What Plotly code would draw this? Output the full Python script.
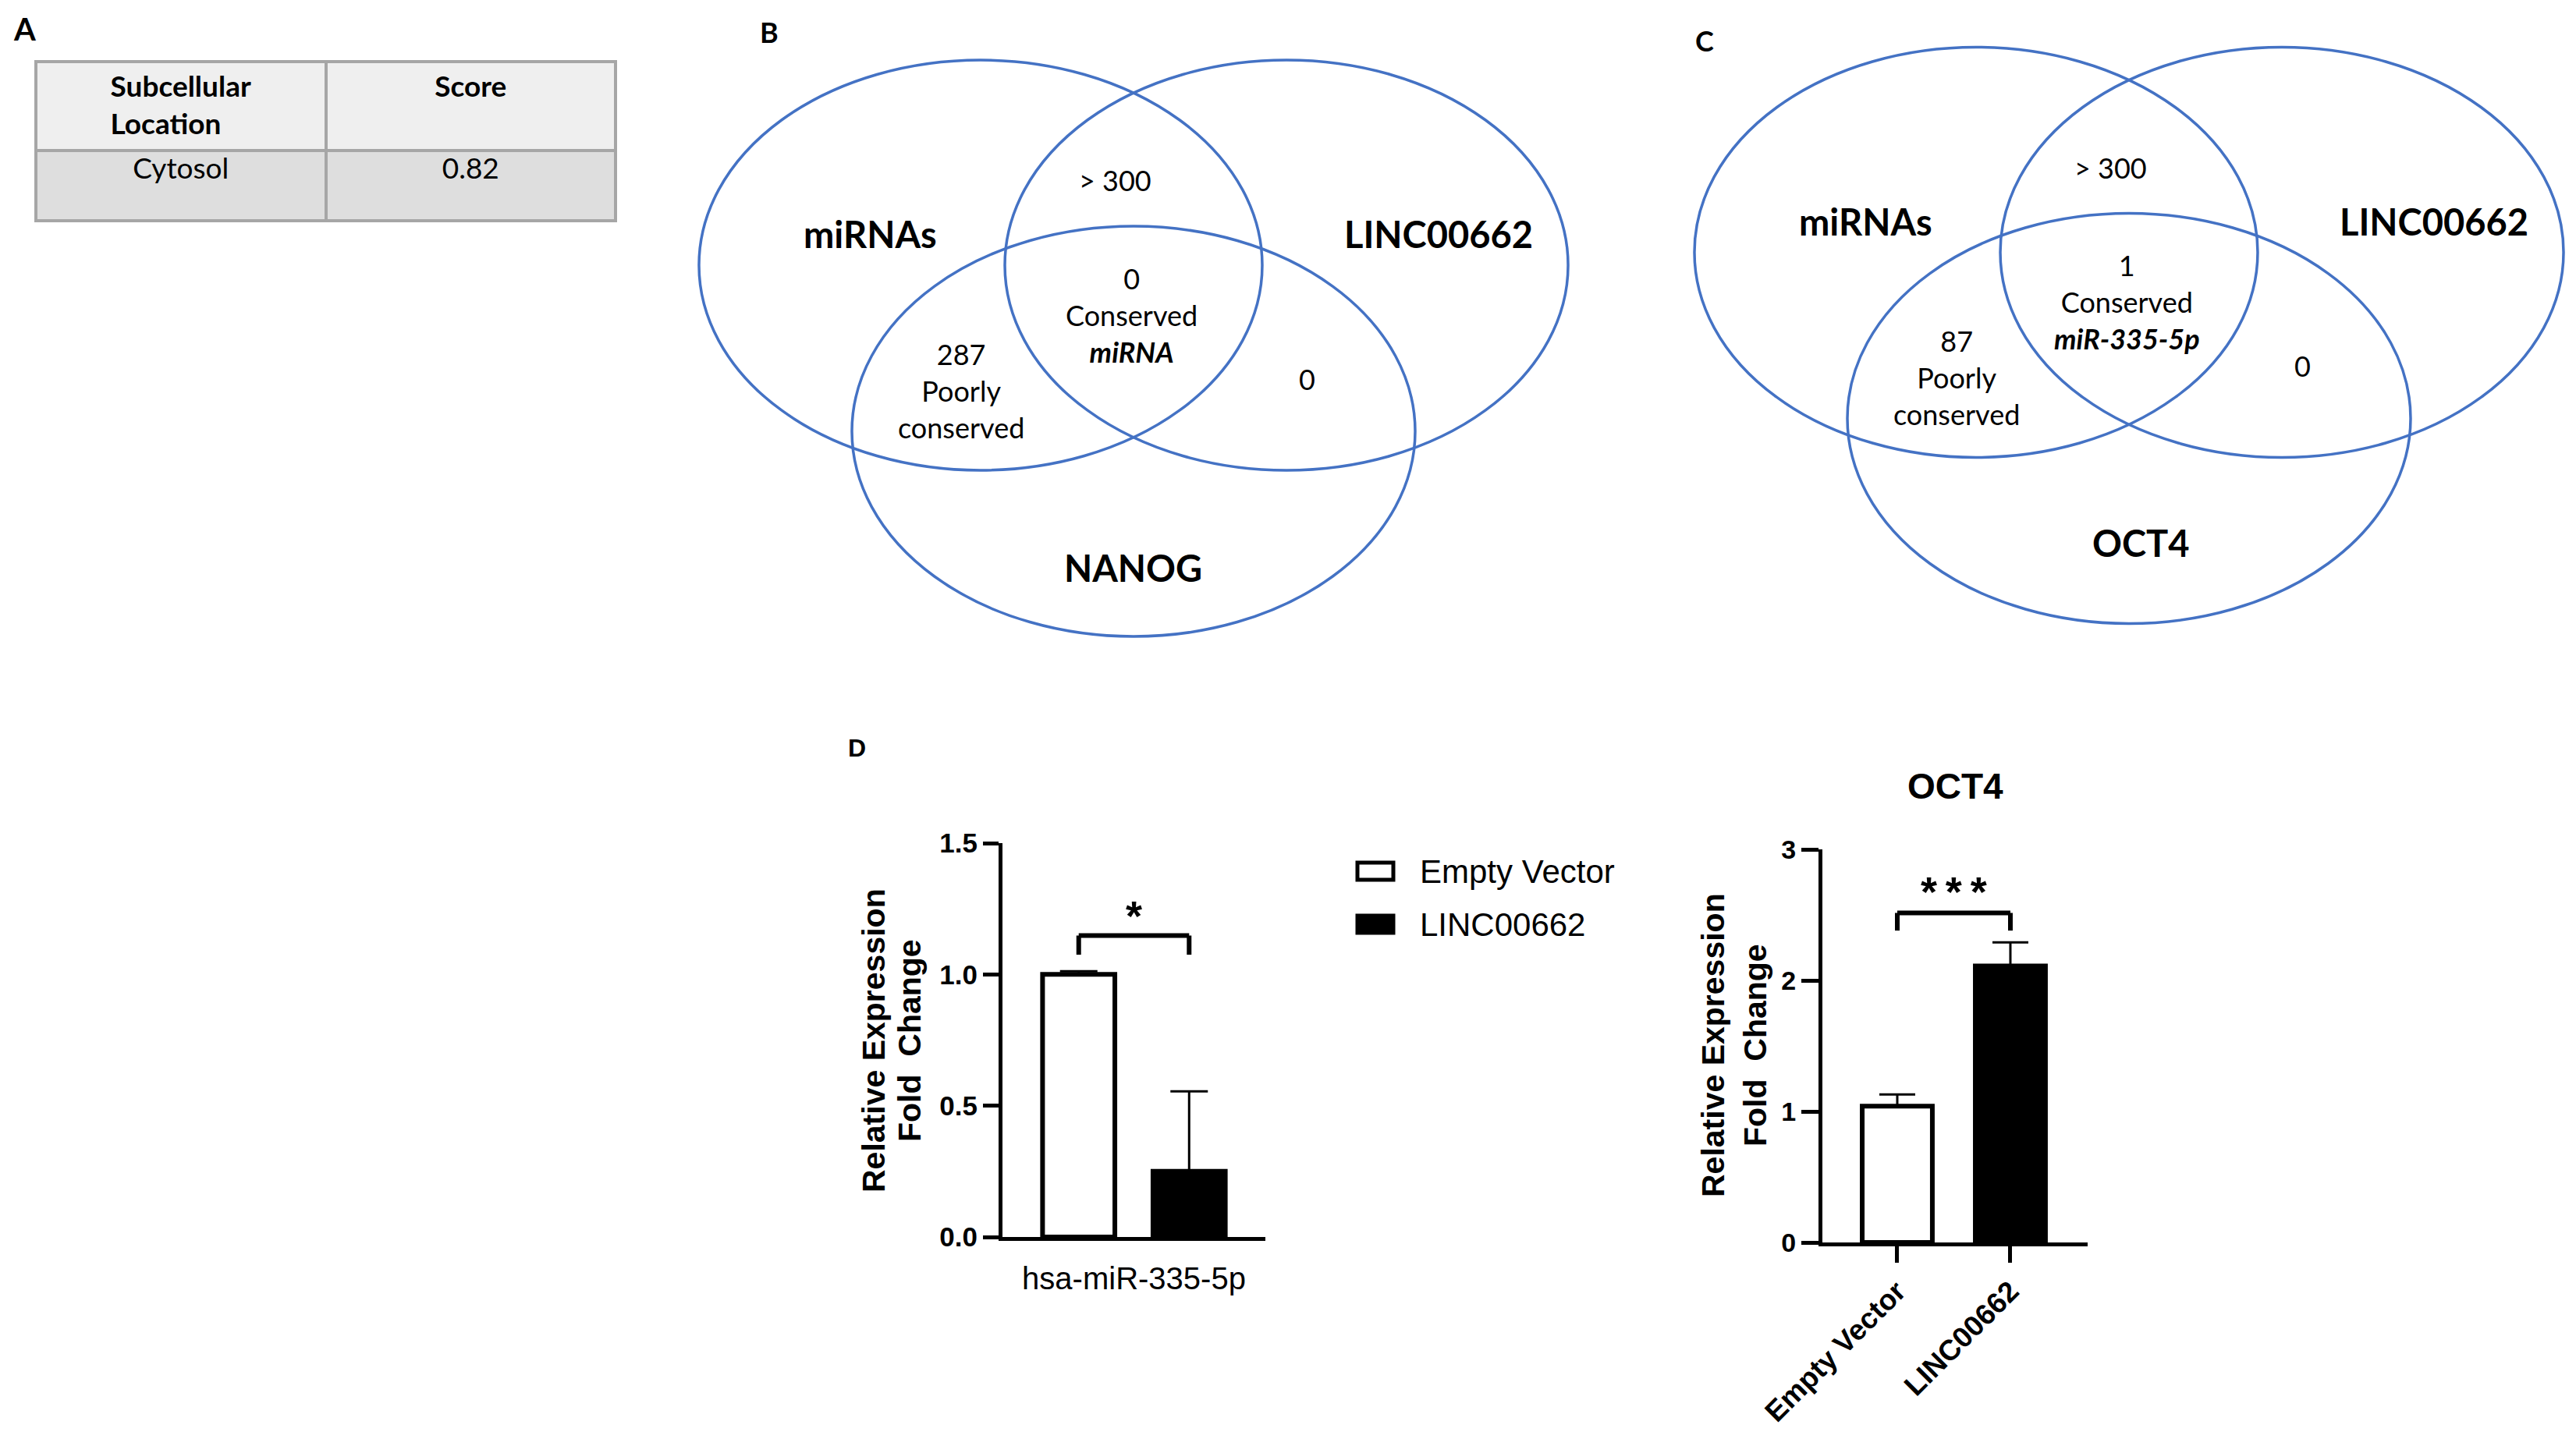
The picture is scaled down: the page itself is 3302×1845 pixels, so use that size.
import plotly.graph_objects as go

W, H = 3302, 1845

# ---------------- data ----------------
table_header = ["Subcellular<br>Location", "Score"]
table_location = ["Cytosol"]
table_score = [0.82]

venn_b_sets = ["miRNAs", "LINC00662", "NANOG"]
venn_b_pair_ab = "> 300"
venn_b_triple = "0"
venn_b_triple_name = "miRNA"
venn_b_pair_ac = "287"
venn_b_pair_bc = "0"

venn_c_sets = ["miRNAs", "LINC00662", "OCT4"]
venn_c_pair_ab = "> 300"
venn_c_triple = "1"
venn_c_triple_name = "miR-335-5p"
venn_c_pair_ac = "87"
venn_c_pair_bc = "0"

groups = ["Empty Vector", "LINC00662"]
mir_label = "hsa-miR-335-5p"
mir_means = [1.00, 0.25]
mir_err = [0.012, 0.305]
oct4_means = [1.04, 2.11]
oct4_err = [0.09, 0.18]
mir_yticks = [0.0, 0.5, 1.0, 1.5]
oct4_yticks = [0, 1, 2, 3]
mir_sig = "*"
oct4_sig = "***"

# ---------------- helpers ----------------
def px(x):
    return x / W

def py(y):
    return 1 - y / H

ARIAL = "Liberation Sans, Arial, sans-serif"
CALI = "Lato, Open Sans, sans-serif"
BLUE = "#4472C4"

fig = go.Figure()

# ---------------- A: table ----------------
fig.add_trace(go.Table(
    domain=dict(x=[px(46), px(789)], y=[py(330), py(79)]),
    columnwidth=[1, 1],
    header=dict(
        values=[f"<b>{h}</b>" for h in table_header],
        fill_color="#efefef",
        line=dict(color="#a6a6a6", width=4),
        align="center",
        font=dict(family=CALI, size=37, color="black"),
        height=114,
    ),
    cells=dict(
        values=[table_location, [f"{s:.2f}" for s in table_score]],
        fill_color="#dedede",
        line=dict(color="#a6a6a6", width=4),
        align="center",
        font=dict(family=CALI, size=37, color="black"),
        height=90,
    ),
))

# ---------------- D: bar charts ----------------
bar_w = 0.55
bar_off = [-0.42 - bar_w / 2, 0.42 - bar_w / 2]
fills = ["white", "black"]
for i, g in enumerate(groups):
    fig.add_trace(go.Bar(
        x=[0], y=[mir_means[i]], name=g, width=bar_w, offset=bar_off[i],
        marker=dict(color=fills[i], line=dict(color="black", width=6)),
        error_y=dict(type="data", array=[mir_err[i]], arrayminus=[0], symmetric=False,
                     color="black", thickness=3, width=24),
        xaxis="x", yaxis="y", showlegend=False,
    ))

fig.add_trace(go.Bar(
    x=list(range(len(groups))), y=oct4_means, width=0.62,
    marker=dict(color=fills, line=dict(color="black", width=6)),
    error_y=dict(type="data", array=oct4_err, arrayminus=[0, 0], symmetric=False,
                 color="black", thickness=3, width=23),
    xaxis="x2", yaxis="y2", showlegend=False,
))

axis_common = dict(showgrid=False, zeroline=False, showline=True, linecolor="black",
                   linewidth=5, fixedrange=True, automargin=False)

venn_range_x = [-1.55, 1.55]
venn_range_y = [-1.5, 1.5]
B_cx, B_cy = 1453, 446.5
C_cx, C_cy = 2729, 430
UX, UY = 361, 263

def venn_dom(cx, cy):
    return ([px(cx + venn_range_x[0] * UX), px(cx + venn_range_x[1] * UX)],
            [py(cy - venn_range_y[0] * UY), py(cy - venn_range_y[1] * UY)])

bdx, bdy = venn_dom(B_cx, B_cy)
cdx, cdy = venn_dom(C_cx, C_cy)

hidden = dict(visible=False, fixedrange=True, automargin=False)

fig.update_layout(
    template="none",
    width=W, height=H, autosize=False,
    margin=dict(l=0, r=0, t=0, b=0, pad=0, autoexpand=False),
    paper_bgcolor="white", plot_bgcolor="rgba(0,0,0,0)",
    showlegend=False,
    barmode="overlay",
    xaxis=dict(**axis_common, domain=[px(1285), px(1622)], range=[-1, 1],
               tickvals=[0], ticktext=[mir_label], ticks="",
               tickfont=dict(family=ARIAL, size=40, color="black"),
               ticklabelstandoff=14, anchor="y"),
    yaxis=dict(**axis_common, domain=[py(1586), py(1081)], range=[0, 1.5],
               tickvals=mir_yticks, ticktext=[f"{v:.1f}" for v in mir_yticks],
               ticks="outside", ticklen=20, tickwidth=5, tickcolor="black",
               tickfont=dict(family=ARIAL, size=35, color="black", weight="bold"),
               anchor="x"),
    xaxis2=dict(**axis_common, domain=[px(2336), px(2676)], range=[-0.662, 1.683],
                tickvals=list(range(len(groups))), ticktext=groups, tickangle=-45,
                ticks="outside", ticklen=21, tickwidth=5, tickcolor="black",
                tickfont=dict(family=ARIAL, size=37, color="black", weight="bold"),
                anchor="y2"),
    yaxis2=dict(**axis_common, domain=[py(1593), py(1089)], range=[0, 3],
                tickvals=oct4_yticks, ticks="outside", ticklen=22, tickwidth=5,
                tickcolor="black",
                tickfont=dict(family=ARIAL, size=34, color="black", weight="bold"),
                anchor="x2"),
    xaxis3=dict(**hidden, domain=bdx, range=venn_range_x, anchor="y3"),
    yaxis3=dict(**hidden, domain=bdy, range=venn_range_y, anchor="x3"),
    xaxis4=dict(**hidden, domain=cdx, range=venn_range_x, anchor="y4"),
    yaxis4=dict(**hidden, domain=cdy, range=venn_range_y, anchor="x4"),
)

shapes = []
annotations = []

def ann(**kw):
    kw.setdefault("xanchor", "center")
    kw.setdefault("yanchor", "middle")
    kw.setdefault("showarrow", False)
    annotations.append(kw)

# ---------------- Venn diagrams ----------------
venn_centers = [(-0.543, 0.405), (0.543, 0.405), (0.0, -0.405)]
for xr, yr in [("x3", "y3"), ("x4", "y4")]:
    for cx, cy in venn_centers:
        shapes.append(dict(type="circle", xref=xr, yref=yr,
                           x0=cx - 1, x1=cx + 1, y0=cy - 1, y1=cy + 1,
                           line=dict(color=BLUE, width=3.5)))

def venn_text(xr, yr, sets, third_pos, ab, triple, tname, ac, bc):
    set_pos = [(-0.935, 0.556), (1.083, 0.556), third_pos]
    for name, (x, y) in zip(sets, set_pos):
        ann(x=x, y=y, xref=xr, yref=yr, text=f"<b>{name}</b>",
            font=dict(family=CALI, size=47, color="black"))
    f = dict(family=CALI, size=36, color="black")
    ann(x=-0.065, y=0.819, xref=xr, yref=yr, text=ab, font=f)
    ann(x=-0.006, y=0.163, xref=xr, yref=yr,
        text=f"{triple}<br>Conserved<br><b><i>{tname}</i></b>", font=f)
    ann(x=-0.612, y=-0.207, xref=xr, yref=yr, text=f"{ac}<br>Poorly<br>conserved", font=f)
    ann(x=0.616, y=-0.149, xref=xr, yref=yr, text=bc, font=f)

venn_text("x3", "y3", venn_b_sets, (0.0, -1.07), venn_b_pair_ab, venn_b_triple,
          venn_b_triple_name, venn_b_pair_ac, venn_b_pair_bc)
venn_text("x4", "y4", venn_c_sets, (0.044, -1.012), venn_c_pair_ab, venn_c_triple,
          venn_c_triple_name, venn_c_pair_ac, venn_c_pair_bc)

# ---------------- panel letters ----------------
for letter, x, y, fam, size in [("A", 31, 37, CALI, 40), ("B", 986, 41, CALI, 36),
                                ("C", 2185, 52, CALI, 36), ("D", 1098, 959, ARIAL, 32)]:
    ann(x=px(x), y=py(y), xref="paper", yref="paper", text=f"<b>{letter}</b>",
        font=dict(family=fam, size=size, color="black"))

# ---------------- significance brackets ----------------
def bracket(xr, yr, xa, xb, ylo, yhi, label, ylab, size):
    for (x0, y0, x1, y1) in [(xa, ylo, xa, yhi), (xa, yhi, xb, yhi), (xb, yhi, xb, ylo)]:
        shapes.append(dict(type="line", xref=xr, yref=yr, x0=x0, y0=y0, x1=x1, y1=y1,
                           line=dict(color="black", width=6)))
    spaced = "\u2009".join(label)
    ann(x=(xa + xb) / 2, y=ylab, xref=xr, yref=yr, text=f"<b>{spaced}</b>",
        font=dict(family=ARIAL, size=size, color="black"))

bracket("x", "y", -0.42, 0.42, 1.075, 1.148, mir_sig, 1.225, 54)
bracket("x2", "y2", 0, 1, 2.38, 2.515, oct4_sig, 2.68, 54)

# ---------------- legend (manual) ----------------
for i, g in enumerate(groups):
    yc = [1117, 1185][i]
    shapes.append(dict(type="rect", xref="paper", yref="paper",
                       x0=px(1740), x1=px(1786), y0=py(yc + 11), y1=py(yc - 11),
                       fillcolor=fills[i], line=dict(color="black", width=5)))
    ann(x=px(1818), y=py(yc), xref="paper", yref="paper", text=g, xanchor="left",
        font=dict(family=ARIAL, size=42, color="black"))

# ---------------- axis titles / chart title ----------------
yt = dict(family=ARIAL, size=41, color="black", weight="bold")
for x, y, t in [(1120, 1334, "Relative Expression"), (1166, 1334, "Fold\u00a0 Change"),
                (2196, 1340, "Relative Expression"), (2250, 1340, "Fold\u00a0 Change")]:
    ann(x=px(x), y=py(y), xref="paper", yref="paper", text=t, textangle=-90, font=yt)
ann(x=px(2506), y=py(1008), xref="paper", yref="paper", text="<b>OCT4</b>",
    font=dict(family=ARIAL, size=46, color="black"))

fig.update_layout(shapes=shapes, annotations=annotations)
fig.write_html("out.html", config={"displayModeBar": False},
               post_script="document.body.style.margin='0';")
